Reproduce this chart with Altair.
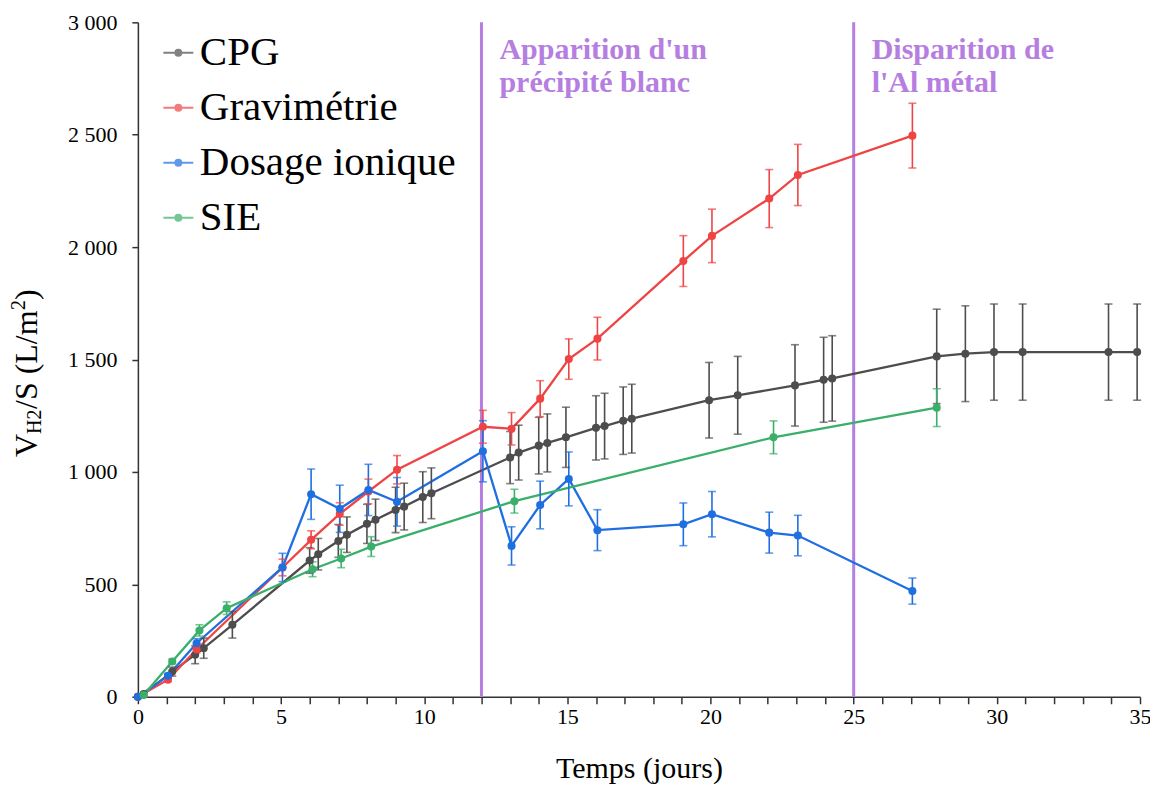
import altair as alt
import pandas as pd

# ---------------- data ----------------
series_names = ["CPG", "Gravimétrie", "Dosage ionique", "SIE"]
series_colors = ["#4d4d4d", "#ef4444", "#1f6fe0", "#3aaf6a"]

cpg_x = [0, 0.2, 1.2, 2.0, 2.3, 3.3, 6.0, 6.3, 7.0, 7.3, 8.0, 8.3, 9.0, 9.3, 9.95, 10.25,
         13.0, 13.3, 14.0, 14.3, 14.95, 16.0, 16.3, 16.95, 17.25, 19.95, 20.95, 22.95,
         23.95, 24.25, 27.9, 28.9, 29.9, 30.9, 33.9, 34.9]
cpg_y = [0, 12, 112, 187, 216, 320, 606, 634, 693, 721, 769, 787, 831, 846, 888, 905,
         1064, 1086, 1117, 1129, 1154, 1196, 1204, 1228, 1237, 1319, 1341, 1385,
         1410, 1416, 1514, 1526, 1533, 1533, 1533, 1533]
cpg_err = [0, 0, 20, 40, 45, 59, 57, 70, 73, 79, 87, 92, 101, 104, 113, 113,
           116, 122, 126, 129, 134, 143, 146, 150, 153, 168, 173, 181,
           189, 190, 210, 213, 214, 214, 214, 214]

grav_x = [0, 1.05, 2.05, 5.05, 6.05, 7.05, 8.05, 9.05, 12.05, 13.05, 14.05, 15.05,
          16.05, 19.05, 20.05, 22.05, 23.05, 27.05]
grav_y = [0, 76, 210, 575, 698, 813, 913, 1010, 1201, 1192, 1326, 1502,
          1593, 1938, 2050, 2216, 2321, 2496]
grav_err = [0, 8, 15, 37, 40, 50, 55, 63, 73, 72, 80, 90,
            95, 113, 119, 129, 136, 144]

ion_x = [0, 1.05, 2.05, 5.05, 6.05, 7.05, 8.05, 9.05, 12.05, 13.05, 14.05, 15.05,
         16.05, 19.05, 20.05, 22.05, 23.05, 27.05]
ion_y = [0, 93, 238, 575, 901, 836, 920, 867, 1092, 671, 853, 969,
         741, 767, 812, 730, 717, 470]
ion_err = [0, 10, 20, 63, 112, 105, 114, 108, 136, 85, 106, 120,
           91, 95, 101, 91, 90, 58]

sie_x = [0.2, 1.2, 2.15, 3.1, 6.1, 7.1, 8.15, 13.15, 22.2, 27.9]
sie_y = [8, 157, 295, 394, 567, 615, 668, 870, 1154, 1286]
sie_err = [0, 10, 25, 28, 33, 41, 44, 53, 73, 84]

events_x = [12, 25]
events_text = [["Apparition d'un", "précipité blanc"], ["Disparition de", "l'Al métal"]]

x_ticks = list(range(0, 36))
y_ticks = [0, 500, 1000, 1500, 2000, 2500, 3000]

y_title_parts = ["V", "H2", "/S (L/m", "2", ")"]

# ---------------- tables ----------------
rows = []
for name, xs_, ys_, es_ in [("CPG", cpg_x, cpg_y, cpg_err),
                            ("Gravimétrie", grav_x, grav_y, grav_err),
                            ("Dosage ionique", ion_x, ion_y, ion_err),
                            ("SIE", sie_x, sie_y, sie_err)]:
    for x, y, e in zip(xs_, ys_, es_):
        rows.append({"series": name, "t": x, "v": y, "lo": y - e, "hi": y + e, "e": e})
df = pd.DataFrame(rows)
err_df = df[df["e"] > 0]

ev_df = pd.DataFrame({"t": events_x, "label": events_text})

FONT = "Liberation Serif"
PURPLE = "#b57ee0"

xs = alt.Scale(domain=[0, 35], nice=False, zero=False)
ys = alt.Scale(domain=[0, 3000], nice=False)

x_axis = alt.Axis(
    values=x_ticks,
    labelExpr="(datum.value % 5 == 0) ? ('' + datum.value) : ''",
    labelOverlap=False, labelFlush=False, labelBound=False,
    title="Temps (jours)", titleFontSize=30, titleFont=FONT, titleFontWeight="normal",
    titleColor="black", titlePadding=26, tickSize=7, labelPadding=3,
    labelFontSize=22, labelFont=FONT, labelColor="black")
y_axis = alt.Axis(
    values=y_ticks,
    labelExpr="replace(format(datum.value, ','), ',', ' ')",
    labelOverlap=False, labelFlush=False,
    title=None, tickSize=6, labelPadding=15,
    labelFontSize=22, labelFont=FONT, labelColor="black")


def X(field):
    return alt.X(field, scale=xs, axis=x_axis)


def Y(field):
    return alt.Y(field, scale=ys, axis=y_axis)


color_scale = alt.Scale(domain=series_names, range=series_colors)

# line segment + a dot drawn with concentric stroked rings (legend symbols are stroked)
legend_path = ("M-1,0L1,0"
               "M-0.2,0A0.2,0.2,0,1,1,0.2,0A0.2,0.2,0,1,1,-0.2,0"
               "M-0.1,0A0.1,0.1,0,1,1,0.1,0A0.1,0.1,0,1,1,-0.1,0"
               "M-0.03,0A0.03,0.03,0,1,1,0.03,0A0.03,0.03,0,1,1,-0.03,0")
leg = alt.Legend(title=None, orient="none", legendX=20, legendY=10,
                 symbolType=legend_path, symbolSize=900, symbolStrokeWidth=2,
                 labelFont=FONT, labelFontSize=41, labelColor="black",
                 labelOffset=1, rowPadding=13, padding=0, labelLimit=600)

color_enc = alt.Color("series:N", scale=color_scale, legend=leg, sort=series_names)

events = alt.Chart(ev_df).mark_rule(color=PURPLE, strokeWidth=3).encode(x=X("t:Q"))

annots = alt.Chart(ev_df).mark_text(
    align="left", baseline="alphabetic", dx=18, font=FONT, fontSize=30,
    fontWeight="bold", color=PURPLE, lineHeight=33).encode(
    x=X("t:Q"), y=alt.value(37), text="label")

lines = alt.Chart(df).mark_line(strokeWidth=2.3).encode(
    x=X("t:Q"), y=Y("v:Q"), color=color_enc)

err_rules = alt.Chart(err_df).mark_rule(strokeWidth=1.6).encode(
    x=X("t:Q"), y=Y("lo:Q"), y2="hi:Q", color=color_enc)
err_top = alt.Chart(err_df).mark_tick(orient="horizontal", size=8, thickness=1.6).encode(
    x=X("t:Q"), y=Y("hi:Q"), color=color_enc)
err_bot = alt.Chart(err_df).mark_tick(orient="horizontal", size=8, thickness=1.6).encode(
    x=X("t:Q"), y=Y("lo:Q"), color=color_enc)

points = alt.Chart(df).mark_circle(size=65, opacity=1).encode(
    x=X("t:Q"), y=Y("v:Q"), color=color_enc)

# y-axis title built from pieces (subscript / superscript)
title_layers = []
specs = [(y_title_parts[0], 32, -101, 435),
         (y_title_parts[1], 20, -97, 412),
         (y_title_parts[2], 32, -101, 387),
         (y_title_parts[3], 20, -113, 288),
         (y_title_parts[4], 32, -101, 278)]
for txt, fs, px, py in specs:
    title_layers.append(
        alt.Chart(pd.DataFrame({"s": [txt]})).mark_text(
            angle=270, align="left", baseline="alphabetic", font=FONT,
            fontSize=fs, color="black").encode(
            x=alt.value(px), y=alt.value(py), text="s:N"))

chart = alt.layer(
    events, annots, lines, err_rules, err_top, err_bot, points, *title_layers
).properties(
    width=1003, height=675,
    padding={"left": 130, "top": 14, "right": 10, "bottom": 88},
    autosize="none",
).configure_view(stroke=None).configure_axis(
    grid=False, domainColor="#333333", tickColor="#333333", domainWidth=1.5, tickWidth=1.5
)

chart.save("out.html", embed_options={"renderer": "svg", "actions": False})
